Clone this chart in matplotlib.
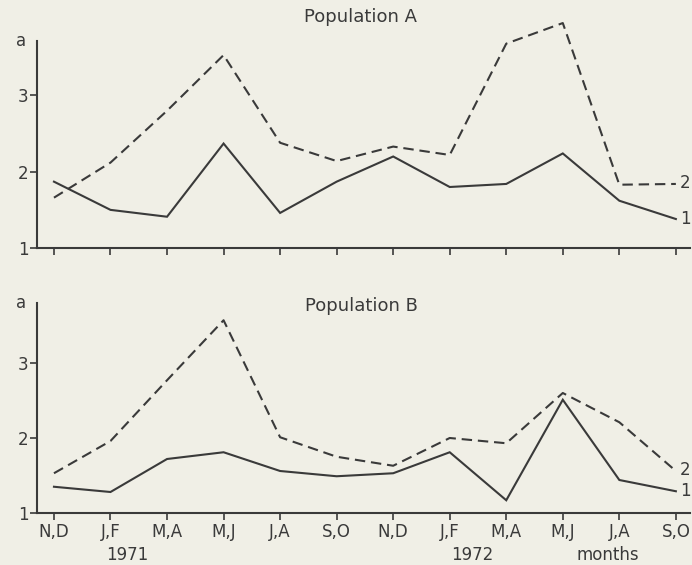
import matplotlib.pyplot as plt
from matplotlib import transforms

# bimonthly periods, Nov 1970 - Oct 1972
periods = ["N,D", "J,F", "M,A", "M,J", "J,A", "S,O",
           "N,D", "J,F", "M,A", "M,J", "J,A", "S,O"]

# Population A
a_curve1 = [1.87, 1.50, 1.41, 2.37, 1.46, 1.87, 2.20, 1.80, 1.84, 2.24, 1.62, 1.38]
a_curve2 = [1.66, 2.12, 2.80, 3.53, 2.38, 2.14, 2.33, 2.22, 3.68, 3.95, 1.83, 1.84]

# Population B
b_curve1 = [1.35, 1.28, 1.72, 1.81, 1.56, 1.49, 1.53, 1.81, 1.17, 2.51, 1.44, 1.29]
b_curve2 = [1.53, 1.96, 2.77, 3.57, 2.01, 1.75, 1.63, 2.00, 1.93, 2.60, 2.21, 1.56]

bg = "#f0efe6"
ink = "#3a3a3a"

plt.rcParams["font.family"] = "DejaVu Sans"
plt.rcParams["text.color"] = ink

fig = plt.figure(figsize=(6.92, 5.65), dpi=100, facecolor=bg)
W, H = 692, 565


def make_axes(left, right, top, bottom):
    return fig.add_axes([left / W, 1 - bottom / H, (right - left) / W, (bottom - top) / H])


ax_a = make_axes(37, 690, 20, 248)
ax_b = make_axes(37, 690, 303, 513)

x = list(range(len(periods)))


def draw_panel(ax, c1, c2, title, ytop, spine_top, title_y):
    ax.set_facecolor(bg)
    ax.plot(x, c1, color=ink, lw=1.5, solid_joinstyle="miter", clip_on=False)
    ax.plot(x, c2, color=ink, lw=1.5, linestyle=(0, (5, 2.8)), clip_on=False)
    ax.set_xlim(-0.3, 11.25)
    ax.set_ylim(1, ytop)
    ax.spines[["top", "right"]].set_visible(False)
    ax.spines["left"].set_bounds(1, spine_top)
    for s in ("left", "bottom"):
        ax.spines[s].set_color(ink)
        ax.spines[s].set_linewidth(1.5)
    ax.set_yticks([1, 2, 3])
    ax.set_xticks(x)
    ax.tick_params(colors=ink, width=1.2, length=5, labelsize=12, pad=2)
    ax.tick_params(axis="y", pad=1)
    # "a" label on top of the y axis
    ax.text(-0.025, spine_top, "a", transform=ax.get_yaxis_transform(),
            ha="center", va="center", fontsize=12)
    # curve numbers at right end
    ax.annotate("1", (x[-1], c1[-1]), xytext=(3, 0), textcoords="offset points",
                ha="left", va="center", fontsize=12, annotation_clip=False)
    ax.annotate("2", (x[-1], c2[-1]), xytext=(3, 1), textcoords="offset points",
                ha="left", va="center", fontsize=12, annotation_clip=False)
    fig.text(361 / W, 1 - title_y / H, title, ha="center", va="center", fontsize=13)


draw_panel(ax_a, a_curve1, a_curve2, "Population A", 3.99, 3.72, 17)
draw_panel(ax_b, b_curve1, b_curve2, "Population B", 3.80, 3.80, 306)

ax_a.set_xticklabels([])
ax_b.set_xticklabels(periods)

trans = transforms.blended_transform_factory(ax_b.transData, ax_b.transAxes)
for label, xpos in [("1971", 1.3), ("1972", 7.4), ("months", 9.8)]:
    ax_b.annotate(label, (xpos, 0), xycoords=trans, xytext=(0, -30),
                  textcoords="offset points", ha="center", va="center",
                  fontsize=12, annotation_clip=False)

fig.savefig("out.png", dpi=100, facecolor=bg)
